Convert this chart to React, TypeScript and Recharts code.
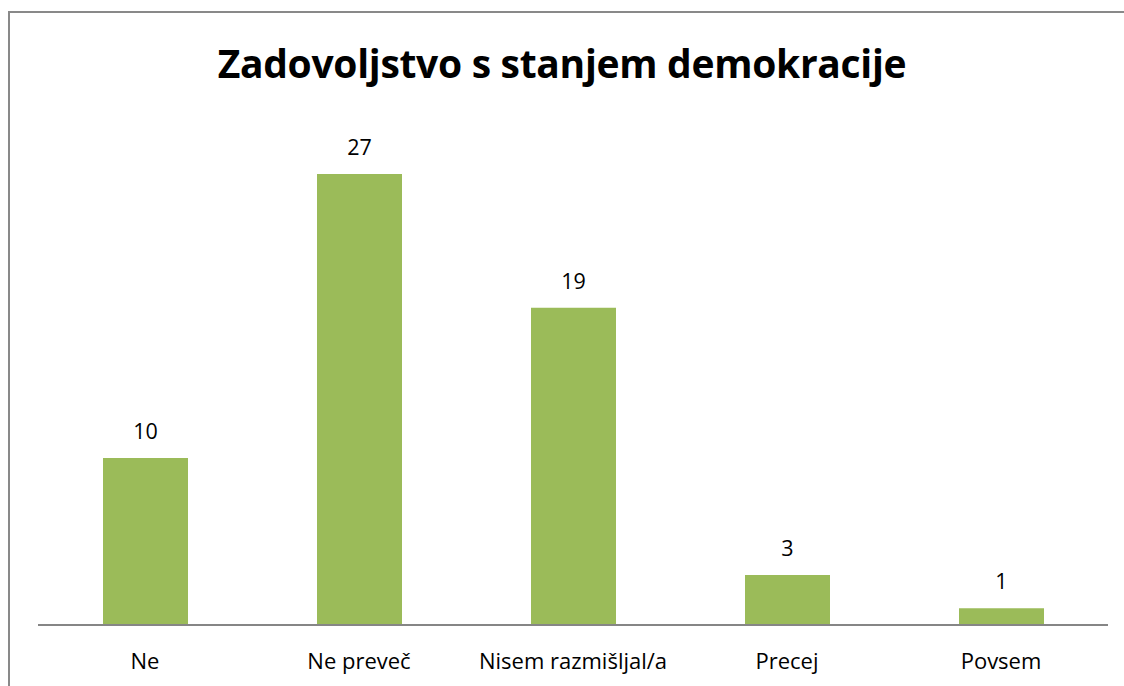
import { BarChart, Bar, XAxis, YAxis, LabelList } from "recharts";

const categories = ["Ne", "Ne preveč", "Nisem razmišljal/a", "Precej", "Povsem"];
const counts = [10, 27, 19, 3, 1];

const data = categories.map((name, i) => ({ name, count: counts[i] }));

const FONT = "'Open Sans', Lato, sans-serif";

export default function App() {
  return (
    <div
      style={{
        position: "absolute",
        left: 0,
        top: 0,
        width: 1124,
        height: 686,
        background: "#fff",
        overflow: "hidden",
        fontFamily: FONT,
      }}
    >
      {/* chart frame: only left and top edges fall inside the picture */}
      <div
        style={{
          position: "absolute",
          left: 8,
          top: 11,
          width: 1200,
          height: 800,
          borderLeft: "2px solid #898989",
          borderTop: "2px solid #898989",
        }}
      />
      <div
        style={{
          position: "absolute",
          left: 0,
          top: 33,
          width: 1124,
          textAlign: "center",
          fontSize: 39,
          fontWeight: 700,
          color: "#000",
          lineHeight: "60px",
          letterSpacing: -0.3,
        }}
      >
        Zadovoljstvo s stanjem demokracije
      </div>
      <div style={{ position: "absolute", left: 0, top: 0 }}>
        <BarChart
          width={1124}
          height={686}
          data={data}
          margin={{ top: 124, right: 16, left: 38, bottom: 21 }}
        >
          <XAxis
            dataKey="name"
            stroke="#868686"
            strokeWidth={2}
            tickLine={false}
            tickSize={0}
            tickMargin={28}
            height={40}
            tick={{ fill: "#000", fontSize: 22, fontFamily: FONT }}
          />
          <YAxis hide domain={[0, 30]} />
          <Bar dataKey="count" fill="#9BBB59" barSize={85} isAnimationActive={false}>
            <LabelList
              dataKey="count"
              position="top"
              offset={19}
              fill="#000"
              fontSize={21.5}
              fontFamily={FONT}
            />
          </Bar>
        </BarChart>
      </div>
    </div>
  );
}
